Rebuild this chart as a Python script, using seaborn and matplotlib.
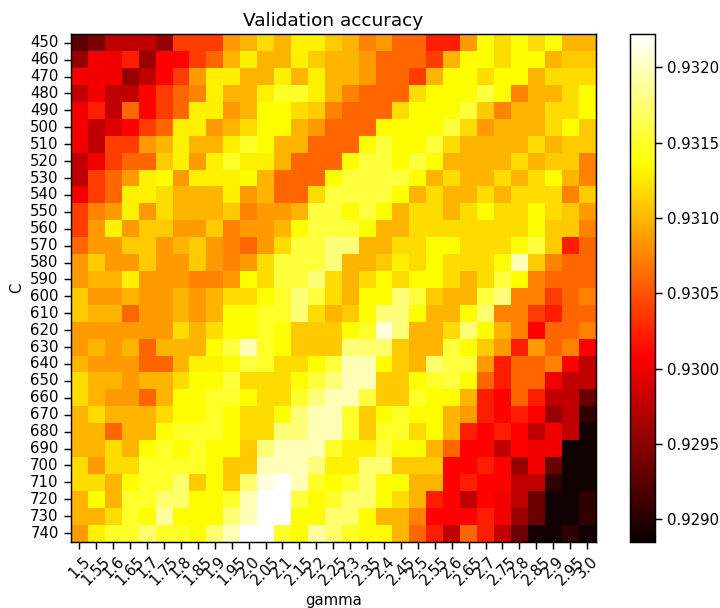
import matplotlib
matplotlib.use("Agg")
import matplotlib.pyplot as plt
import numpy as np
import pandas as pd
import seaborn as sns

gamma = ["1.5", "1.55", "1.6", "1.65", "1.7", "1.75", "1.8", "1.85", "1.9", "1.95", "2.0",
         "2.05", "2.1", "2.15", "2.2", "2.25", "2.3", "2.35", "2.4", "2.45", "2.5",
         "2.55", "2.6", "2.65", "2.7", "2.75", "2.8", "2.85", "2.9", "2.95", "3.0"]
C = [450 + 10 * i for i in range(30)]

# in units of 1e-5 above 0.93
acc_rows = [
    [-75,-58,-23,-23,-23,-43,38,38,38,86,99,119,99,129,129,109,99,74,86,59,59,23,23,86,136,119,136,119,136,99,99],
    [-43,1,1,23,-43,10,10,38,59,99,129,99,99,129,109,99,99,86,59,59,59,38,99,136,136,119,136,136,99,109,109],
    [1,1,1,-43,-23,10,38,86,129,129,99,99,129,99,129,99,99,86,59,59,38,99,136,136,119,136,136,99,119,119,119],
    [-23,1,-23,-23,10,38,59,74,129,99,99,129,150,150,129,99,74,59,59,59,119,136,136,136,157,136,74,99,99,119,136],
    [1,23,-23,59,10,38,59,129,129,86,99,136,136,119,109,74,59,59,59,119,136,136,136,157,109,74,99,99,119,119,136],
    [1,-23,-9,10,38,59,129,129,86,99,119,136,136,99,86,59,59,59,136,136,136,136,157,119,86,99,99,99,119,136,109],
    [1,-23,38,38,86,99,129,99,99,129,150,136,99,99,59,59,59,136,157,136,136,157,119,99,99,99,99,119,99,109,109],
    [-23,1,38,59,59,109,129,86,129,150,129,129,99,59,59,59,136,157,157,136,157,136,99,99,99,99,119,99,109,109,74],
    [-23,38,59,86,129,136,86,129,129,129,136,99,59,59,59,136,157,157,157,157,136,99,119,99,99,119,99,119,136,99,74],
    [1,38,59,129,129,119,99,99,99,129,86,99,59,59,119,157,157,157,157,136,99,119,99,99,119,99,119,119,119,74,109],
    [38,74,86,129,86,119,99,99,99,109,74,86,86,99,157,157,136,157,136,99,119,119,99,119,136,119,119,136,119,109,86],
    [38,86,129,86,109,109,86,86,109,74,86,86,99,136,157,157,157,136,99,99,119,119,119,119,119,119,119,136,109,109,74],
    [59,86,86,109,109,86,99,109,86,74,59,86,119,157,157,177,177,99,99,119,119,136,136,119,119,119,136,157,109,23,59],
    [86,109,86,86,109,86,86,109,86,74,86,119,157,157,157,177,99,99,109,129,119,136,119,119,119,136,197,109,74,59,59],
    [86,99,99,129,86,86,86,74,74,86,136,119,157,157,177,119,99,119,136,119,136,136,119,99,119,157,136,74,59,59,59],
    [109,86,86,99,86,86,99,86,99,119,119,136,150,177,157,119,99,136,136,177,157,109,99,99,157,177,74,74,38,59,74],
    [109,99,99,59,86,86,99,86,99,136,136,150,150,177,119,99,109,136,177,177,136,99,99,136,172,74,74,38,23,59,59],
    [86,86,86,86,86,86,119,99,119,136,136,150,136,109,109,109,136,150,210,177,99,99,119,177,136,99,74,10,59,59,74],
    [86,99,86,99,59,99,99,99,136,157,197,150,136,109,109,109,177,172,172,109,99,99,157,136,109,86,23,86,59,74,10],
    [99,86,86,86,59,59,99,129,129,136,157,150,119,119,136,157,197,197,136,109,99,172,157,157,86,23,59,59,74,10,-23],
    [119,99,99,86,99,99,119,136,136,157,119,119,119,136,157,177,197,197,109,109,136,150,157,136,59,23,59,59,1,-23,-23],
    [119,99,86,86,59,99,136,136,150,150,136,119,119,150,177,197,197,157,109,109,150,136,136,99,23,10,59,23,-23,-23,-67],
    [99,119,99,99,99,119,136,136,150,136,119,119,136,177,197,197,150,109,136,150,136,136,99,86,23,10,23,10,-43,-23,-96],
    [99,99,59,99,99,136,150,150,150,136,119,119,177,177,197,197,150,109,150,150,119,136,99,23,10,23,10,-23,1,-23,-112],
    [99,99,119,99,136,150,136,150,136,136,109,177,197,197,197,150,129,129,157,136,136,99,59,10,10,-23,10,1,1,-112,-112],
    [119,86,119,119,150,150,150,150,136,109,109,197,197,197,177,129,129,172,172,109,109,109,10,10,23,10,-43,1,-67,-112,-112],
    [119,119,99,136,150,150,172,109,136,109,172,210,222,197,150,136,150,172,136,136,99,99,10,23,10,10,-23,-23,-96,-112,-112],
    [99,136,99,150,150,172,172,136,136,150,197,222,222,157,136,150,172,172,136,119,99,23,10,-23,10,1,-23,-67,-112,-112,-96],
    [99,99,119,150,136,190,136,136,136,177,197,222,222,136,136,172,172,136,99,99,74,10,10,10,23,1,-43,-67,-112,-112,-96],
    [86,129,150,150,172,150,150,136,172,197,222,222,150,136,190,172,150,136,136,99,59,23,-23,59,23,-23,-67,-112,-112,-96,-112],
]

df = pd.DataFrame(0.93 + np.array(acc_rows) * 1e-5, index=C, columns=gamma)

sns.set_style("white")
W, H = 720, 608
fig = plt.figure(figsize=(W / 100, H / 100), dpi=100)
ax = fig.add_axes([71 / W, 1 - 541.5 / H, 524.5 / W, 507.2 / H])
cax = fig.add_axes([630 / W, 1 - 542 / H, 25 / W, 508 / H])

sns.heatmap(df, ax=ax, cbar_ax=cax, cmap="hot", vmin=0.92885, vmax=0.93222,
            xticklabels=gamma, yticklabels=C, square=False,
            cbar_kws={"ticks": [0.929, 0.9295, 0.93, 0.9305, 0.931, 0.9315, 0.932],
                      "format": "%.4f"})

ax.set_title("Validation accuracy", fontsize=13.3, pad=6, color="black")
ax.set_xlabel("gamma", fontsize=10.7, color="black", labelpad=3.5)
ax.set_ylabel("C", fontsize=10.7, color="black", labelpad=4)
ax.tick_params(axis="both", length=4.7, width=1.05, pad=4.2, color="black", labelsize=10.7,
               left=True, bottom=True, labelcolor="black")
ax.tick_params(axis="x", labelrotation=45)
ax.tick_params(axis="y", labelrotation=0)
for s in ax.spines.values():
    s.set_visible(True)
    s.set_color("black")
    s.set_linewidth(1.05)

cax.tick_params(length=4.7, width=1.05, pad=4.2, color="black", labelsize=10.7, right=True, labelcolor="black")
cb = ax.collections[0].colorbar
cb.outline.set_visible(True)
cb.outline.set_edgecolor("black")
cb.outline.set_linewidth(1.05)

fig.savefig("out.png", dpi=100)
plt.close(fig)
